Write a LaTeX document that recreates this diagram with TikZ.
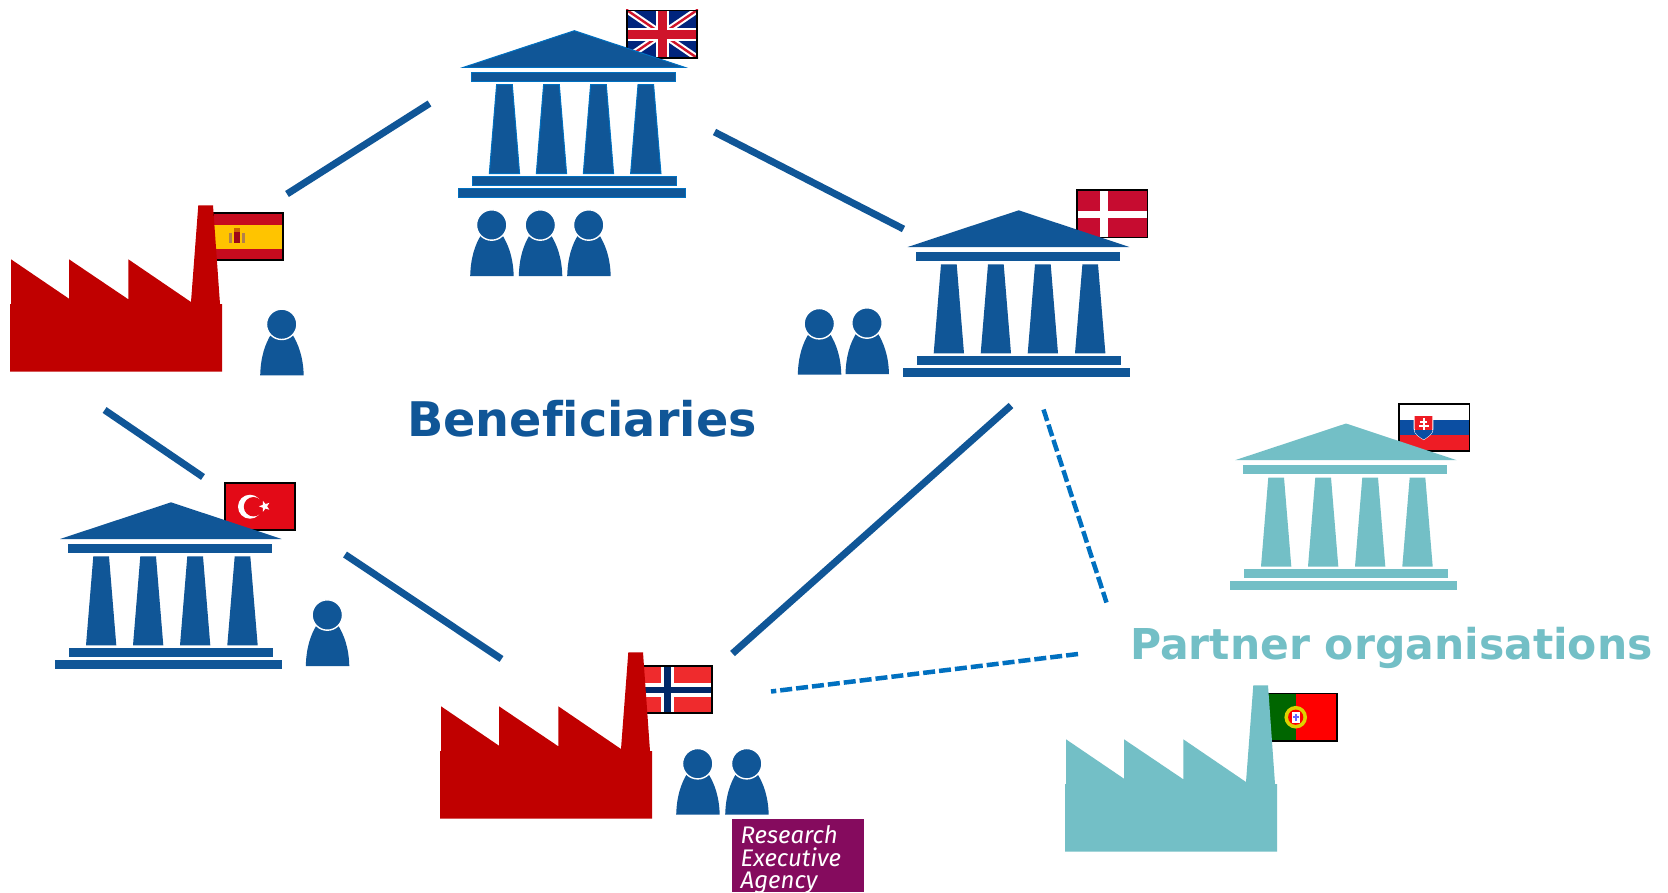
\documentclass[tikz,border=0pt]{standalone}
\usepackage{fontspec}
\setmainfont{DejaVu Sans}[Ligatures=CommonOff]
\newfontfamily\reafont{Fira Sans}
\definecolor{bluemain}{HTML}{105697}
\definecolor{blueline}{HTML}{0070C0}
\definecolor{tealmain}{HTML}{73BFC6}
\definecolor{redmain}{HTML}{C00000}
\definecolor{reapurple}{HTML}{850B5E}
\definecolor{ukblue}{HTML}{00247D}
\definecolor{ukred}{HTML}{CF142B}
\definecolor{esred}{HTML}{C60B1E}
\definecolor{esyellow}{HTML}{FFC400}
\definecolor{nored}{HTML}{EF2B2D}
\definecolor{noblue}{HTML}{002868}
\definecolor{ptgreen}{HTML}{006600}
\definecolor{skblue}{HTML}{0B4EA2}
\definecolor{skred}{HTML}{EE1C25}
\definecolor{trred}{HTML}{E30A17}
\definecolor{dkred}{HTML}{C60C30}
\tikzset{
  link/.style={draw=bluemain,line width=7pt},
  partnerlink/.style={draw=blueline,line width=4.5pt,dash pattern=on 12pt off 4pt},
  flagframe/.style={draw=black,line width=1.8pt},
  bigtext/.style={inner sep=0pt,anchor=base west},
  uktemple/.style={draw=blueline,line width=1pt},
  reatext/.style={inner sep=0pt,anchor=base west,text=white,font=\reafont\itshape\fontsize{24}{24}\selectfont},
}
% #1 x, #2 y, #3 fill style
\newcommand\templeicon[3]{%
\begin{scope}[shift={(#1,#2)}]
  \path[#3] (0,0) -- (-111,36.7) -- (110.7,36.7) -- cycle;
  \path[#3] (-103,41.7) rectangle (101,50.7);
  \path[#3] (-77.7,54) -- (-62,54) -- (-54.7,143) -- (-85,143) -- cycle;
  \path[#3] (-30.7,54) -- (-15,54) -- (-7.7,143) -- (-38,143) -- cycle;
  \path[#3] (16.3,54) -- (32,54) -- (39.3,143) -- (9,143) -- cycle;
  \path[#3] (63.7,54) -- (79.3,54) -- (86.7,143) -- (56.3,143) -- cycle;
  \path[#3] (-102,145.7) rectangle (102,154.7);
  \path[#3] (-116,157.7) rectangle (111,166.7);
\end{scope}}
% #1 x, #2 y (top-left of body), #3 colour
\newcommand\factoryicon[3]{%
\begin{scope}[shift={(#1,#2)}]
  \fill[#3] (0,0) -- (1,0) -- (1,-44.7) -- (59,-5.3) -- (59,-44.7) -- (118.3,-4.7) -- (118.3,-44.7)
     -- (181,-2) -- (188.3,-98.7) -- (203,-98.7) -- (210,0) -- (212,0) -- (212,67.7) -- (0,67.7) -- cycle;
\end{scope}}
\newcommand\personicon[2]{%
\begin{scope}[shift={(#1,#2)}]
  \fill[bluemain] (-21.5,51) .. controls (-21,33) and (-17,20) .. (-10,9) -- (10,9)
     .. controls (17,20) and (21.5,33) .. (22,51) -- cycle;
  \draw[white,line width=1.4pt,fill=bluemain] (0,0) circle (15.2);
\end{scope}}
\newcommand\flagbox[3]{%
\begin{scope}[shift={(#1,#2)}]
  \begin{scope}
    \clip (0,0) rectangle (72,49);
    #3
  \end{scope}
  \draw[flagframe] (0.9,0.9) rectangle (71.1,48.1);
\end{scope}}
\begin{document}
\begin{tikzpicture}[x=1pt,y=-1pt]
\useasboundingbox (0,0) rectangle (1668,892);
\fill[white] (0,0) rectangle (1668,892);

% connectors
\coordinate (ukW) at (429.5,103.5);
\coordinate (esN) at (287,194);
\coordinate (ukE) at (714.5,132);
\coordinate (dkW) at (903.5,229);
\coordinate (esS) at (104.6,410);
\coordinate (trN) at (203,477);
\coordinate (trE) at (345,554.5);
\coordinate (noW) at (501.5,659);
\coordinate (dkS) at (1011,405.5);
\coordinate (noN) at (732.5,653.5);
\coordinate (dkP) at (1043.5,409.5);
\coordinate (skP) at (1106.5,602.5);
\coordinate (ptP) at (1078,654);
\coordinate (noP) at (771,691.5);
\draw[link] (ukW) -- (esN);
\draw[link] (ukE) -- (dkW);
\draw[link] (esS) -- (trN);
\draw[link] (trE) -- (noW);
\draw[link] (dkS) -- (noN);
\draw[partnerlink] (dkP) -- (skP);
\draw[partnerlink] (ptP) -- (noP);

% flags
\flagbox{626}{9.5}{%
  \fill[ukblue] (0,0) rectangle (72,49);
  \draw[white,line width=6.5pt] (0,0) -- (72,49) (0,49) -- (72,0);
  \draw[ukred,line width=2.4pt] (0,0) -- (36,24.5) (72,49) -- (36,24.5) (0,49) -- (36,24.5) (72,0) -- (36,24.5);
  \fill[white] (30,0) rectangle (42.6,49);
  \fill[white] (0,18) rectangle (72,31.6);
  \fill[ukred] (32,0) rectangle (40.6,49);
  \fill[ukred] (0,20) rectangle (72,29.6);
}
\flagbox{212}{212}{%
  \fill[esred] (0,0) rectangle (72,49);
  \fill[esyellow] (0,12.5) rectangle (72,36.5);
  \fill[esred!80!black] (21.5,20) rectangle (28,31);
  \fill[gray!60!orange] (17,21) rectangle (20,31);
  \fill[gray!60!orange] (29.5,21) rectangle (32.5,31);
  \fill[orange!80!black] (21.5,16) rectangle (28,20);
}
\flagbox{641}{665}{%
  \fill[nored] (0,0) rectangle (72,49);
  \fill[white] (20,0) rectangle (32.7,49);
  \fill[white] (0,18.3) rectangle (72,31.7);
  \fill[noblue] (23.3,0) rectangle (30.3,49);
  \fill[noblue] (0,22) rectangle (72,28.3);
}
\flagbox{1266}{692.5}{%
  \fill[red] (0,0) rectangle (72,49);
  \fill[ptgreen] (0,0) rectangle (29.7,49);
  \fill[yellow!70!olive] (29.7,24.7) circle (11.3);
  \fill[red] (29.7,24.7) circle (7.6);
  \fill[white] (25.5,19.5) rectangle (34,30);
  \fill[blue!60!white] (28.5,21) rectangle (31,28);
  \fill[blue!60!white] (26.5,23.5) rectangle (33,25.5);
}
\flagbox{1398.3}{403}{%
  \fill[white] (0,0) rectangle (72,49);
  \fill[skblue] (0,16.7) rectangle (72,32.3);
  \fill[skred] (0,32.3) rectangle (72,49);
  \draw[white,line width=1pt,fill=skred] (15.9,12.3) -- (34.6,12.3) -- (34.6,26) .. controls (34.6,31) and (29,34) .. (25.4,36.5)
     .. controls (21.5,34) and (15.9,31) .. (15.9,26) -- cycle;
  \begin{scope}
    \clip (15.9,12.3) -- (34.6,12.3) -- (34.6,26) .. controls (34.6,31) and (29,34) .. (25.4,36.5)
     .. controls (21.5,34) and (15.9,31) .. (15.9,26) -- cycle;
    \fill[skblue] (15,27) rectangle (36,38);
  \end{scope}
  \fill[white] (24.4,15) rectangle (26.4,27);
  \fill[white] (21.8,18) rectangle (29,19.8);
  \fill[white] (20.5,22) rectangle (30.3,23.8);
}
\flagbox{223.7}{482}{%
  \fill[trred] (0,0) rectangle (72,49);
  \fill[white] (26.3,24.7) circle (12);
  \fill[trred] (29.8,24.7) circle (9.7);
  \begin{scope}[shift={(41,24.3)}]
    \fill[white] (180:5.8) -- (216:2.4) -- (252:5.8) -- (288:2.4) -- (324:5.8) -- (0:2.4)
       -- (36:5.8) -- (72:2.4) -- (108:5.8) -- (144:2.4) -- cycle;
  \end{scope}
}
\flagbox{1076.3}{189.3}{%
  \fill[dkred] (0,0) rectangle (72,49);
  \fill[white] (23.7,0) rectangle (31.4,49);
  \fill[white] (0,21.4) rectangle (72,28.4);
}

% temples
\templeicon{574.3}{30.7}{fill=bluemain,uktemple}
\templeicon{1018.7}{210.3}{fill=bluemain}
\templeicon{171}{502.3}{fill=bluemain}
\templeicon{1346}{423.5}{fill=tealmain}

% factories
\factoryicon{10}{304}{redmain}
\factoryicon{440}{751}{redmain}
\factoryicon{1065}{784}{tealmain}

% people
\personicon{491.7}{225}
\personicon{540.3}{225}
\personicon{588.7}{225}
\personicon{281.7}{324.3}
\personicon{819.3}{323.7}
\personicon{867}{323}
\personicon{327.3}{615}
\personicon{697.7}{763.7}
\personicon{746.7}{763.7}

% labels
\node[bigtext,text=bluemain,font=\fontsize{47.7}{47.7}\selectfont\bfseries] (benef) at (407,436) {Beneficiaries};
\node[bigtext,text=tealmain,font=\fontsize{42.5}{42.5}\selectfont\bfseries] (partner) at (1130,659.5) {Partner organisations};

% REA logo
\fill[reapurple] (732,819) rectangle (864,892);
\begin{scope}
\clip (732,819) rectangle (864,892);
\node[reatext] (reaA) at (740.5,843.3) {Research};
\node[reatext] (reaB) at (740.5,866) {Executive};
\node[reatext] (reaC) at (740.5,888) {Agency};
\end{scope}
\end{tikzpicture}
\end{document}
